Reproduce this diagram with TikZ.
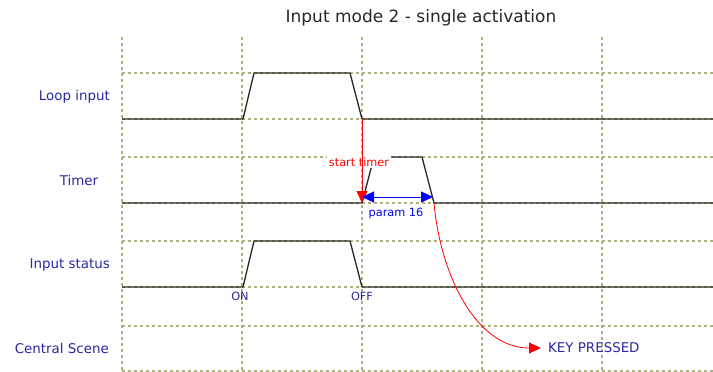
\documentclass[tikz,border=0pt]{standalone}
\usepackage{fontspec}
\setmainfont{DejaVu Sans}
\usetikzlibrary{arrows.meta}
\definecolor{gridcol}{RGB}{175,175,125}
\definecolor{labcol}{RGB}{40,40,160}
\definecolor{sigcol}{RGB}{40,40,40}
\begin{document}
\begin{tikzpicture}[x=1pt,y=-1pt,line join=round,>={Triangle[length=12pt,width=11pt]}]
			\tikzset{grid/.style={gridcol,line width=1.1pt,dash pattern=on 3pt off 3pt},
				signal/.style={sigcol,line width=1.3pt},
				rowlab/.style={labcol,font=\fontsize{13.4}{15}\selectfont,inner sep=0pt},
				smalllab/.style={font=\fontsize{11.3}{13}\selectfont,inner sep=0pt}}
			\useasboundingbox (0,0) rectangle (713,372);
			\node[inner sep=0pt,text=black!85,font=\fontsize{17}{20}\selectfont] (title) at (421,18) {Input mode 2 - single activation};
			% grid
			\foreach \x in {122,242,362,482,602}
			\draw[grid] (\x,37)--(\x,372);
			\foreach \y in {73,119,157,203,241,287,326,371}
			\draw[grid] (122,\y)--(713,\y);
			% row names
			\node[rowlab,anchor=east] (loop) at (110,97) {Loop input};
			\node[rowlab] (timer) at (79,181) {Timer};
			\node[rowlab,anchor=east] (status) at (110,265) {Input status};
			\node[rowlab,anchor=east] (scene) at (109,349) {Central Scene};
			% signals
			\draw[signal] (122,119)--(243,119)--(254,73)--(350,73)--(362,119) coordinate (loopoff)--(713,119);
			\draw[signal] (122,203)--(362,203) coordinate (timeron)--(374,157)--(422,157)--(434,203) coordinate (timeroff)--(713,203);
			\draw[signal] (122,287)--(243,287) coordinate (on)--(254,241)--(350,241)--(362,287) coordinate (off)--(713,287);
			\node[smalllab,labcol] (onlab) at (240,296) {ON};
			\node[smalllab,labcol] (offlab) at (362,296) {OFF};
			% timer start
			\node[smalllab,red,fill=white,inner sep=2pt] (start) at (359,162) {start timer};
			\draw[red,line width=.8pt,->] (loopoff)--(timeron);
			% timer length
			\coordinate (prml) at (362,197);
			\coordinate (prmr) at (433,197);
			\draw[blue,line width=1pt,<->] (prml)--(prmr);
			\node[smalllab,blue] (prm) at (396,213) {param 16};
			% result
			\node[rowlab,anchor=west] (key) at (548,348) {KEY PRESSED};
			\draw[red,line width=.8pt,->,shorten >=7pt] (timeroff) to[out=-85,in=180] (key.west);
		\end{tikzpicture}
\end{document}
